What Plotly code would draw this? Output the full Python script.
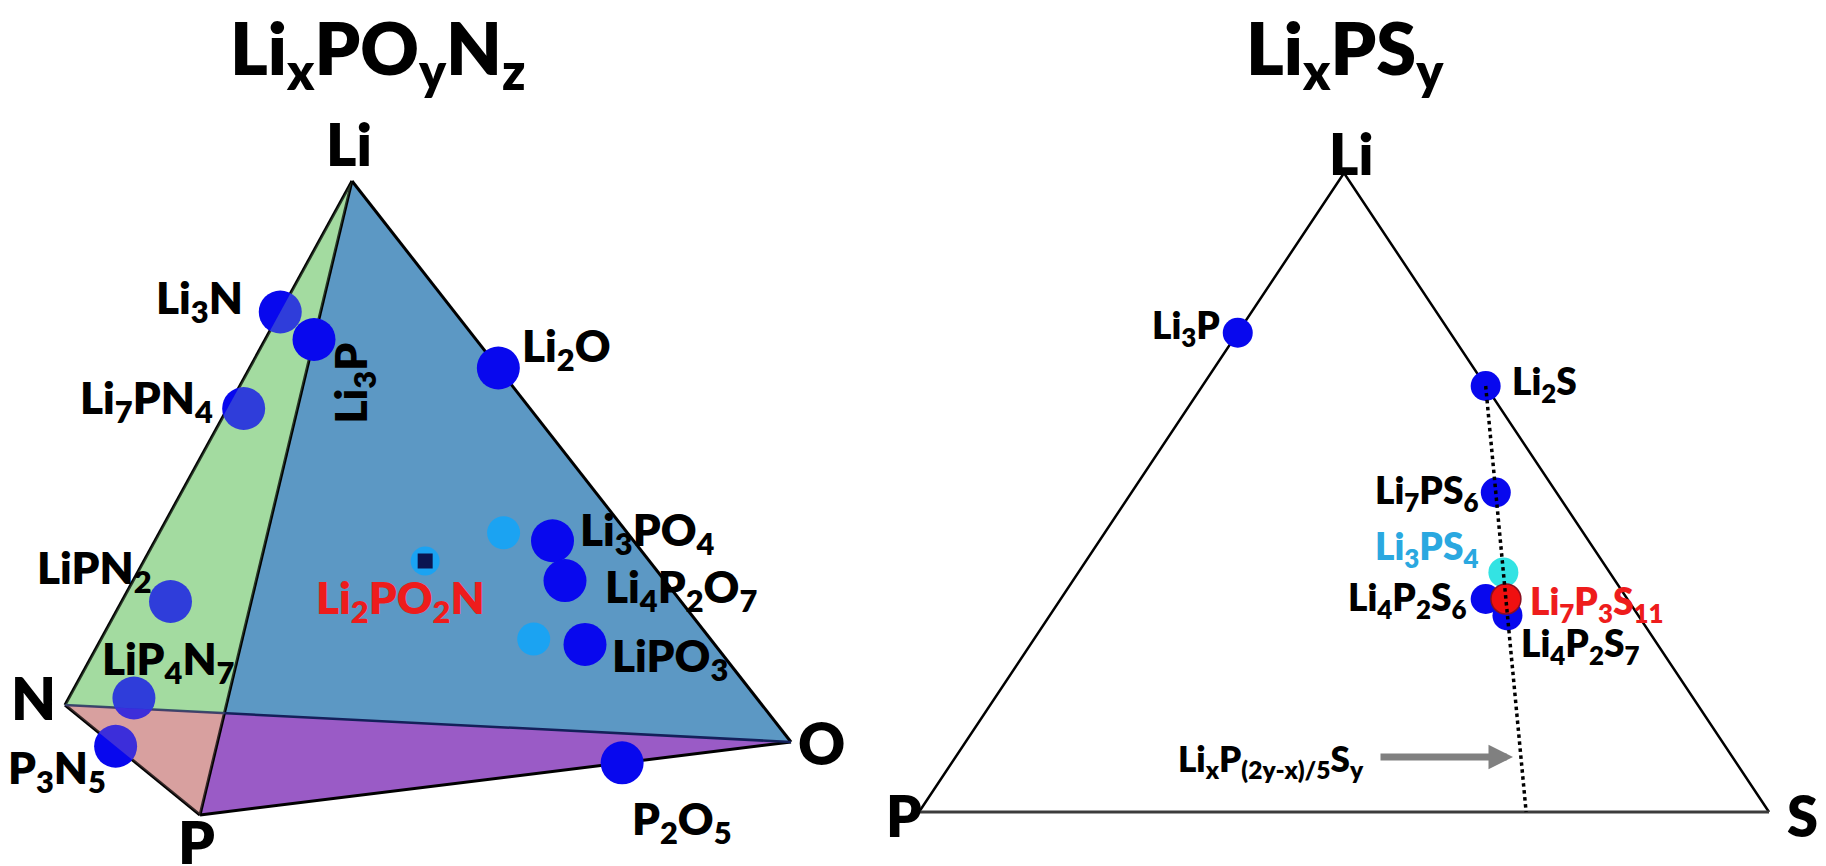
import re
import plotly.graph_objects as go

# ---------------- Li-P-O-N system: atom counts per formula unit ----------------
lpon_names = ["Li3N", "Li3P", "Li7PN4", "LiPN2", "LiP4N7", "P3N5",
              "Li2O", "Li3PO4", "Li4P2O7", "LiPO3", "P2O5"]
lpon_li = [3, 3, 7, 1, 1, 0, 2, 3, 4, 1, 0]
lpon_p = [0, 1, 1, 1, 4, 3, 0, 1, 2, 1, 2]
lpon_o = [0, 0, 0, 0, 0, 0, 1, 4, 7, 3, 5]
lpon_n = [1, 0, 4, 2, 7, 5, 0, 0, 0, 0, 0]

# nitrided phosphate glasses (unlabelled points)
lipon_li = [3.0, 1.0]
lipon_p = [1.0, 1.0]
lipon_o = [3.325, 2.55]
lipon_n = [0.45, 0.3]

# highlighted oxynitride
target_name = "Li2PO2N"
target_li = [2]
target_p = [1]
target_o = [2]
target_n = [1]

# ---------------- Li-P-S system ----------------
lps_names = ["Li3P", "Li2S", "Li7PS6", "Li3PS4", "Li4P2S6", "Li7P3S11", "Li4P2S7"]
lps_li = [3, 2, 7, 3, 4, 7, 4]
lps_p = [1, 0, 1, 1, 2, 3, 2]
lps_s = [0, 1, 6, 4, 6, 11, 7]

# tie line Li_x P_(2y-x)/5 S_y, evaluated at y = 1 for x = 2 and x = 0
tie_x = [2.0, 0.0]
tie_y = [1.0, 1.0]

# ---------------- drawing geometry (pixel space of the page) ----------------
W, H = 1826, 866
TET = {"Li": (352, 181), "N": (65, 705), "P": (200, 815), "O": (791, 742)}
TRI = {"Li": (1344, 173), "P": (919, 812), "S": (1769, 812)}

FONT = "Lato"
WEIGHT = 800
BLUE = "#0808ee"
LIGHT_BLUE = "#1ba3f2"


def project(verts, counts):
    """Barycentric projection of compositions onto the drawn simplex."""
    keys = list(counts.keys())
    n = len(counts[keys[0]])
    xs, ys = [], []
    for i in range(n):
        tot = sum(counts[k][i] for k in keys)
        xs.append(sum(counts[k][i] / tot * verts[k][0] for k in keys))
        ys.append(sum(counts[k][i] / tot * verts[k][1] for k in keys))
    return xs, ys


def fmt(name):
    return re.sub(r"(\d+)", r"<sub>\1</sub>", name)


def lerp(a, b, t):
    return (a[0] + (b[0] - a[0]) * t, a[1] + (b[1] - a[1]) * t)


def line_cross(p1, p2, p3, p4):
    # intersection of segment p1-p2 with segment p3-p4
    d = (p1[0] - p2[0]) * (p3[1] - p4[1]) - (p1[1] - p2[1]) * (p3[0] - p4[0])
    t = ((p1[0] - p3[0]) * (p3[1] - p4[1]) - (p1[1] - p3[1]) * (p3[0] - p4[0])) / d
    return lerp(p1, p2, t)


fig = go.Figure()

# ---------------- tetrahedron faces ----------------
X = line_cross(TET["Li"], TET["P"], TET["N"], TET["O"])
faces = [
    ([TET["Li"], TET["N"], X], "#a3dba0"),
    ([TET["N"], TET["P"], X], "#d9a19f"),
    ([TET["Li"], X, TET["O"]], "#5c98c4"),
    ([X, TET["P"], TET["O"]], "#9a5bc6"),
]
for pts, col in faces:
    fig.add_trace(go.Scatter(
        x=[p[0] for p in pts] + [pts[0][0]], y=[p[1] for p in pts] + [pts[0][1]],
        mode="lines", fill="toself", fillcolor=col, line=dict(width=0),
        hoverinfo="skip", showlegend=False))

# edges
edges = [("Li", "N", "black", 3), ("Li", "P", "black", 3), ("Li", "O", "black", 3),
         ("N", "P", "black", 3), ("P", "O", "black", 3), ("N", "O", "#14205a", 2.5)]
for a, b, col, w in edges:
    fig.add_trace(go.Scatter(
        x=[TET[a][0], TET[b][0]], y=[TET[a][1], TET[b][1]], mode="lines",
        line=dict(color=col, width=w), hoverinfo="skip", showlegend=False))

# ---------------- Li-P-O-N points ----------------
lx, ly = project(TET, {"Li": lpon_li, "P": lpon_p, "O": lpon_o, "N": lpon_n})
nitride_idx = [i for i in range(len(lpon_names)) if lpon_n[i] > 0]
other_idx = [i for i in range(len(lpon_names)) if i not in nitride_idx]

fig.add_trace(go.Scatter(
    x=[lx[i] for i in nitride_idx], y=[ly[i] for i in nitride_idx], mode="markers",
    marker=dict(size=43, color=BLUE, line=dict(width=0)),
    hoverinfo="skip", showlegend=False))

# translucent front faces over the nitrides
for pts, col in [([TET["Li"], TET["N"], X], "rgba(163,219,160,0.25)"),
                 ([TET["N"], TET["P"], X], "rgba(217,161,159,0.25)")]:
    fig.add_trace(go.Scatter(
        x=[p[0] for p in pts] + [pts[0][0]], y=[p[1] for p in pts] + [pts[0][1]],
        mode="lines", fill="toself", fillcolor=col, line=dict(width=0),
        hoverinfo="skip", showlegend=False))

fig.add_trace(go.Scatter(
    x=[lx[i] for i in other_idx], y=[ly[i] for i in other_idx], mode="markers",
    marker=dict(size=43, color=BLUE, line=dict(width=0)),
    hoverinfo="skip", showlegend=False))

gx, gy = project(TET, {"Li": lipon_li, "P": lipon_p, "O": lipon_o, "N": lipon_n})
fig.add_trace(go.Scatter(
    x=gx, y=gy, mode="markers", marker=dict(size=33, color=LIGHT_BLUE, line=dict(width=0)),
    hoverinfo="skip", showlegend=False))

tx, ty = project(TET, {"Li": target_li, "P": target_p, "O": target_o, "N": target_n})
fig.add_trace(go.Scatter(
    x=tx, y=ty, mode="markers", marker=dict(size=29, color=LIGHT_BLUE, line=dict(width=0)),
    hoverinfo="skip", showlegend=False))
fig.add_trace(go.Scatter(
    x=tx, y=ty, mode="markers",
    marker=dict(size=15, symbol="square", color="#0b1550", line=dict(width=0)),
    hoverinfo="skip", showlegend=False))

# ---------------- ternary Li-P-S ----------------
tri_pts = [TRI["P"], TRI["Li"], TRI["S"]]
fig.add_trace(go.Scatter(
    x=[p[0] for p in tri_pts], y=[p[1] for p in tri_pts], mode="lines",
    line=dict(color="black", width=2.5), hoverinfo="skip", showlegend=False))
fig.add_trace(go.Scatter(
    x=[TRI["P"][0], TRI["S"][0]], y=[TRI["P"][1], TRI["S"][1]], mode="lines",
    line=dict(color="#3c3c3c", width=3), hoverinfo="skip", showlegend=False))

sx, sy = project(TRI, {"Li": lps_li, "P": lps_p, "S": lps_s})
lps_colors = [BLUE, BLUE, BLUE, "#33e3e3", BLUE, "#f01010", BLUE]
lps_lines = ["rgba(0,0,0,0)"] * 5 + ["#8a0f20", "rgba(0,0,0,0)"]
order = [0, 1, 2, 3, 4, 6, 5]
fig.add_trace(go.Scatter(
    x=[sx[i] for i in order], y=[sy[i] for i in order], mode="markers",
    marker=dict(size=30, color=[lps_colors[i] for i in order],
                line=dict(width=1.5, color=[lps_lines[i] for i in order])),
    hoverinfo="skip", showlegend=False))

# tie line drawn from its formula
tie_p = [(2 * yv - xv) / 5 for xv, yv in zip(tie_x, tie_y)]
ex, ey = project(TRI, {"Li": tie_x, "P": tie_p, "S": tie_y})
fig.add_trace(go.Scatter(
    x=ex, y=ey, mode="lines", line=dict(color="black", width=3.5, dash="dot"),
    hoverinfo="skip", showlegend=False))

# ---------------- annotations ----------------
ann = []


def label(x, y, text, size, color="black", xanchor="center", dx=0, dy=0, angle=0):
    ann.append(dict(x=x, y=y, xref="x", yref="y", text=text, showarrow=False,
                    xanchor=xanchor, yanchor="middle", xshift=dx, yshift=-dy,
                    textangle=angle,
                    font=dict(family=FONT, size=size, color=color, weight=WEIGHT)))


# titles
label(377, 52, "Li<sub>x</sub>PO<sub>y</sub>N<sub>z</sub>", 72)
label(1345, 52, "Li<sub>x</sub>PS<sub>y</sub>", 72)

# vertex labels
tet_label_off = {"Li": (-3, -38), "N": (-32, -8), "P": (-4, 26), "O": (30, 0)}
for k, (ox, oy) in tet_label_off.items():
    label(TET[k][0], TET[k][1], k, 58, dx=ox, dy=oy)
tri_label_off = {"Li": (7, -20), "P": (-15, 3), "S": (33, 3)}
for k, (ox, oy) in tri_label_off.items():
    label(TRI[k][0], TRI[k][1], k, 56, dx=ox, dy=oy)

# compound labels, Li-P-O-N
lpon_anchor = ["right", "center", "right", "right", "left", "right",
               "left", "left", "left", "left", "center"]
lpon_dx = [-35, 39, -29, -17, -34, -8, 22, 25, 38, 25, 60]
lpon_dy = [-12, 44, -8, -31, -37, 24, -20, -8, 9, 14, 59]
lpon_angle = [0, -90, 0, 0, 0, 0, 0, 0, 0, 0, 0]
for i, nm in enumerate(lpon_names):
    label(lx[i], ly[i], fmt(nm), 44, xanchor=lpon_anchor[i],
          dx=lpon_dx[i], dy=lpon_dy[i], angle=lpon_angle[i])
label(tx[0], ty[0], fmt(target_name), 44, color="#ee1c1c", dx=-25, dy=39)

# compound labels, Li-P-S
lps_anchor = ["right", "left", "right", "right", "right", "left", "left"]
lps_dx = [-16, 24, -16, -23, -18, 22, 12]
lps_dy = [-5, -3, 0, -24, 0, 4, 30]
lps_text_col = ["black", "black", "black", "#2aa8e0", "black", "#ee1c1c", "black"]
for i, nm in enumerate(lps_names):
    label(sx[i], sy[i], fmt(nm), 37, color=lps_text_col[i], xanchor=lps_anchor[i],
          dx=lps_dx[i], dy=lps_dy[i])

# tie-line label and arrow
label(1176, 760, "Li<sub>x</sub>P<sub>(2y-x)/5</sub>S<sub>y</sub>", 35, xanchor="left")
ann.append(dict(x=1513, y=757, ax=1379, ay=757, xref="x", yref="y", axref="x", ayref="y",
                text="", showarrow=True, arrowhead=2, arrowsize=0.7, arrowwidth=7,
                arrowcolor="#808080"))

fig.update_layout(
    width=W, height=H, autosize=False,
    margin=dict(l=0, r=0, t=0, b=0),
    paper_bgcolor="white", plot_bgcolor="white",
    xaxis=dict(range=[0, W], visible=False, fixedrange=True),
    yaxis=dict(range=[H, 0], visible=False, fixedrange=True),
    annotations=ann,
)

fig.write_html("out.html", config={"displayModeBar": False})
